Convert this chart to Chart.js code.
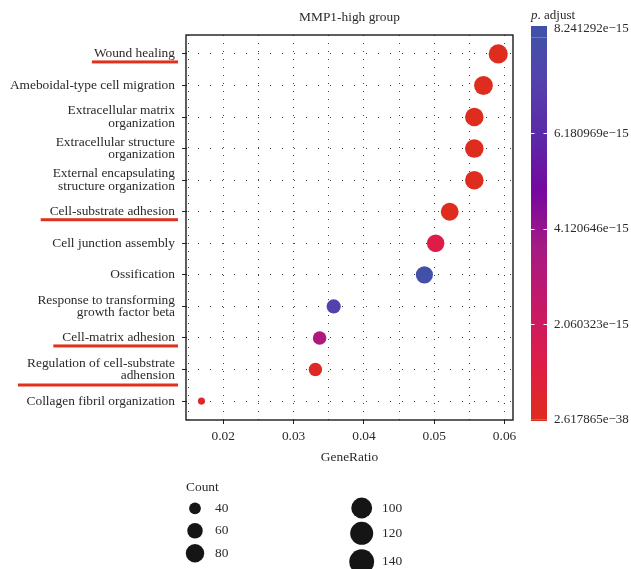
<!DOCTYPE html>
<html>
<head>
<meta charset="utf-8">
<script src="https://cdn.jsdelivr.net/npm/chart.js@4/dist/chart.umd.min.js"></script>
<style>
  html, body { margin: 0; padding: 0; background: #fff; }
  #wrap { position: relative; width: 631px; height: 569px; }
</style>
</head>
<body>
<div id="wrap"><canvas id="chart"></canvas></div>
<script>
// terms, top to bottom
const categories = [
  'Wound healing',
  'Ameboidal-type cell migration',
  'Extracellular matrix\norganization',
  'Extracellular structure\norganization',
  'External encapsulating\nstructure organization',
  'Cell-substrate adhesion',
  'Cell junction assembly',
  'Ossification',
  'Response to transforming\ngrowth factor beta',
  'Cell-matrix adhesion',
  'Regulation of cell-substrate\nadhension',
  'Collagen fibril organization'
]
const geneRatio = [0.0591, 0.0570, 0.0557, 0.0557, 0.0557, 0.0522, 0.0502, 0.0486, 0.0357, 0.0337, 0.0331, 0.0169]
const counts = [86, 83, 81, 81, 81, 76, 73, 71, 52, 49, 48, 25]
const pAdjust = [2.617865e-38, 1.2e-22, 3.5e-20, 4.1e-20, 6.0e-20, 2.4e-17, 1.2e-15, 8.241292e-15, 7.3e-15, 3.3e-15, 1.9e-16, 4.0e-16]
const underlined = ['Wound healing', 'Cell-substrate adhesion', 'Cell-matrix adhesion', 'Regulation of cell-substrate\nadhension']

const xTicks = [0.015, 0.02, 0.025, 0.03, 0.035, 0.04, 0.045, 0.05, 0.055, 0.06]
const xLabels = ['', '0.02', '', '0.03', '', '0.04', '', '0.05', '', '0.06']

const pMin = 2.617865e-38
const pMax = 8.241292e-15
const pTicks = [2.060323e-15, 4.120646e-15, 6.180969e-15]
const pLabels = ['2.617865e\u221238', '2.060323e\u221215', '4.120646e\u221215', '6.180969e\u221215', '8.241292e\u221215']

const sizeBreaks = [40, 60, 80, 100, 120, 140]

const FONT = '"Liberation Serif", "DejaVu Serif", serif'
const FS = 13.4
const TXT = '#2a2a2a'

// red -> purple -> blue
const STOPS = [
  [0, [222, 45, 30]],
  [0.15, [222, 28, 72]],
  [0.3, [198, 24, 104]],
  [0.45, [165, 26, 132]],
  [0.6, [116, 8, 160]],
  [0.75, [90, 42, 168]],
  [0.89, [84, 66, 172]],
  [1, [66, 80, 168]]
]
function colorAt(t) {
  t = Math.max(0, Math.min(1, t))
  for (let i = 1; i < STOPS.length; i++) {
    if (t <= STOPS[i][0]) {
      const [t0, c0] = STOPS[i - 1], [t1, c1] = STOPS[i]
      const f = (t - t0) / (t1 - t0)
      const c = c0.map((v, k) => Math.round(v + (c1[k] - v) * f))
      return 'rgb(' + c.join(',') + ')'
    }
  }
  return 'rgb(' + STOPS[STOPS.length - 1][1].join(',') + ')'
}
const pColor = (p) => colorAt((p - pMin) / (pMax - pMin))
const sizeFor = (n) => 1.3 + 1.02 * Math.sqrt(Math.max(0, n - 20))

const decorations = {
  id: 'decorations',
  afterDraw(chart) {
    const ctx = chart.ctx
    const a = chart.chartArea
    ctx.save()

    // panel box
    ctx.strokeStyle = '#1a1a1a'
    ctx.lineWidth = 1.4
    ctx.strokeRect(a.left, a.top, a.right - a.left, a.bottom - a.top)

    // title
    ctx.fillStyle = TXT
    ctx.font = FS + 'px ' + FONT
    ctx.textAlign = 'center'
    ctx.textBaseline = 'middle'
    ctx.fillText('MMP1-high group', (a.left + a.right) / 2, 17)

    // red underlines under some terms
    const y = chart.scales.y
    ctx.fillStyle = '#e0301e'
    underlined.forEach(name => {
      const i = categories.indexOf(name)
      const lines = name.split('\n')
      const w = Math.max(...lines.map(l => ctx.measureText(l).width))
      const yy = y.getPixelForValue(i) + (lines.length > 1 ? 15.5 : 8)
      const right = a.left - 8
      const ext = i === 0 ? 5 : 12
      ctx.fillRect(right - w - ext, yy - 1.5, w + ext, 3)
    })

    // colour bar
    const bx = 531, bw = 16, bTop = 26, bBot = 421
    const y0 = 419.7, y1 = 37.6
    const py = (v) => y0 - (v - pMin) / (pMax - pMin) * (y0 - y1)
    const grad = ctx.createLinearGradient(0, y0, 0, y1)
    STOPS.forEach(([t]) => grad.addColorStop(t, colorAt(t)))
    ctx.fillStyle = colorAt(1)
    ctx.fillRect(bx, bTop, bw, y1 - bTop)
    ctx.fillStyle = grad
    ctx.fillRect(bx, y1, bw, y0 - y1)
    ctx.fillStyle = colorAt(0)
    ctx.fillRect(bx, y0, bw, bBot - y0)
    ctx.strokeStyle = '#fff'
    ctx.lineWidth = 1
    pTicks.forEach(v => {
      const yy = Math.round(py(v)) + 0.5
      ctx.beginPath()
      ctx.moveTo(bx, yy); ctx.lineTo(bx + 3.5, yy)
      ctx.moveTo(bx + bw - 3.5, yy); ctx.lineTo(bx + bw, yy)
      ctx.stroke()
    })
    ctx.fillStyle = TXT
    ctx.font = '13px ' + FONT
    ctx.textAlign = 'left'
    ctx.textBaseline = 'middle'
    const labelYs = [bBot - 1, py(pTicks[0]), py(pTicks[1]), py(pTicks[2]), bTop + 3]
    pLabels.forEach((l, i) => ctx.fillText(l, 554, labelYs[i]))

    ctx.font = 'italic 13px ' + FONT
    ctx.fillText('p', bx, 16)
    const pw = ctx.measureText('p').width
    ctx.font = '13px ' + FONT
    ctx.fillText('. adjust', bx + pw, 16)

    // size legend
    ctx.font = FS + 'px ' + FONT
    ctx.fillText('Count', 186, 487)
    const cols = [[195, 215], [361.7, 382]]
    const rows = [[508.3, 530.7, 553.3], [508, 533.3, 561.7]]
    sizeBreaks.forEach((n, i) => {
      const c = Math.floor(i / 3), r = i % 3
      const cy = rows[c][r]
      ctx.fillStyle = '#151515'
      ctx.beginPath()
      ctx.arc(cols[c][0], cy, sizeFor(n), 0, Math.PI * 2)
      ctx.fill()
      ctx.fillStyle = TXT
      ctx.fillText(String(n), cols[c][1], cy)
    })
    ctx.restore()
  }
}

new Chart(document.getElementById('chart'), {
  type: 'scatter',
  data: {
    datasets: [{
      label: 'terms',
      data: categories.map((c, i) => ({ x: geneRatio[i], y: i })),
      pointRadius: counts.map(sizeFor),
      pointHoverRadius: counts.map(sizeFor),
      backgroundColor: pAdjust.map(pColor),
      borderWidth: 0
    }]
  },
  options: {
    responsive: true,
    maintainAspectRatio: false,
    animation: false,
    layout: { padding: { left: 0, top: 35, right: 118, bottom: 95 } },
    plugins: { legend: { display: false }, tooltip: { enabled: false } },
    scales: {
      x: {
        type: 'linear',
        min: 0.0147,
        max: 0.0612,
        afterBuildTicks: s => { s.ticks = xTicks.map(v => ({ value: v })) },
        afterFit: s => { s.height = 54 },
        ticks: {
          autoSkip: false, maxRotation: 0, padding: 4, color: TXT,
          font: { family: FONT, size: FS },
          callback: (v, i) => xLabels[i]
        },
        grid: {
          color: 'rgba(0,0,0,0.75)', lineWidth: 1, tickLength: 4,
          tickColor: c => xLabels[c.index] ? '#222' : 'rgba(0,0,0,0)'
        },
        border: { display: false, dash: [1, 7] },
        title: {
          display: true, text: 'GeneRatio', color: TXT,
          font: { family: FONT, size: FS }, padding: { top: 0, bottom: 8 }
        }
      },
      y: {
        type: 'linear',
        reverse: true,
        min: -0.6,
        max: 11.6,
        afterBuildTicks: s => { s.ticks = categories.map((c, i) => ({ value: i })) },
        afterFit: s => { s.width = 186 },
        ticks: {
          autoSkip: false, padding: 7, color: TXT,
          font: { family: FONT, size: FS, lineHeight: 0.93 },
          callback: v => categories[v].split('\n')
        },
        grid: { color: 'rgba(0,0,0,0.75)', lineWidth: 1, tickLength: 4, tickColor: '#222' },
        border: { display: false, dash: [1, 11] }
      }
    }
  },
  plugins: [decorations]
})
</script>
</body>
</html>
